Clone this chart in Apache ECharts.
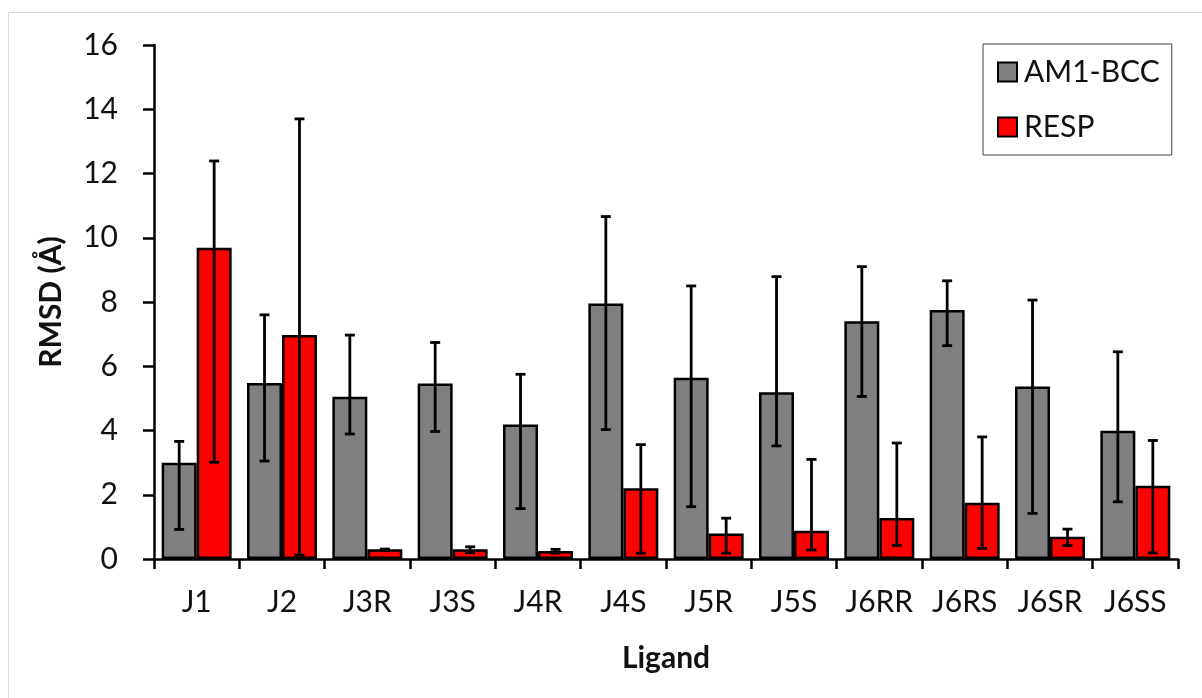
<!DOCTYPE html>
<html>
<head>
<meta charset="utf-8">
<title>RMSD by ligand</title>
<script src="https://cdn.jsdelivr.net/npm/echarts@6/dist/echarts.min.js"></script>
<style>
    html, body { margin: 0; padding: 0; background: #fff; }
    #main { width: 1202px; height: 698px; }
</style>
</head>
<body>
<div id="main"></div>
<script>
// data
const categories = ['J1', 'J2', 'J3R', 'J3S', 'J4R', 'J4S', 'J5R', 'J5S', 'J6RR', 'J6RS', 'J6SR', 'J6SS'];
const yTicks = [0, 2, 4, 6, 8, 10, 12, 14, 16];

const am1Values = [3.0, 5.48, 5.05, 5.46, 4.19, 7.95, 5.64, 5.19, 7.40, 7.75, 5.37, 3.99];
const am1Low = [0.92, 3.05, 3.89, 3.97, 1.57, 4.03, 1.63, 3.52, 5.06, 6.64, 1.42, 1.78];
const am1High = [3.66, 7.60, 6.97, 6.74, 5.75, 10.66, 8.50, 8.79, 9.10, 8.66, 8.06, 6.45];

const respValues = [9.69, 6.97, 0.30, 0.30, 0.25, 2.20, 0.79, 0.88, 1.28, 1.75, 0.69, 2.28];
const respLow = [3.01, 0.12, 0.27, 0.20, 0.18, 0.18, 0.18, 0.28, 0.42, 0.33, 0.42, 0.19];
const respHigh = [12.39, 13.70, 0.31, 0.38, 0.30, 3.56, 1.27, 3.10, 3.61, 3.80, 0.93, 3.69];

const FONT = 'Lato';
const GAP = 0.18; // barCategoryGap

const chartDom = document.getElementById('main');
const myChart = echarts.init(chartDom, null, {renderer: 'canvas'});

// error bar drawer; side = -1 for left bar, +1 for right bar
const makeErrorRender = (side) => (params, api) => {
    const idx = api.value(0);
    const band = api.size([1, 0])[0];
    const barW = band * (1 - GAP) / 2;
    const top = api.coord([idx, api.value(2)]);
    const bot = api.coord([idx, api.value(1)]);
    const x = top[0] + side * barW / 2;
    const cap = 5;
    const style = {stroke: '#000', lineWidth: 2.8};
    return {
        type: 'group',
        children: [
            {type: 'line', shape: {x1: x, y1: top[1], x2: x, y2: bot[1]}, style},
            {type: 'line', shape: {x1: x - cap, y1: top[1], x2: x + cap, y2: top[1]}, style},
            {type: 'line', shape: {x1: x - cap, y1: bot[1], x2: x + cap, y2: bot[1]}, style}
        ]
    };
};

const option = {
    animation: false,
    textStyle: {fontFamily: FONT},
    graphic: [{
        type: 'rect',
        silent: true,
        shape: {x: 8.5, y: 12.5, width: 1400, height: 900},
        style: {fill: 'none', stroke: '#d9d9d9', lineWidth: 1}
    }],
    grid: {left: 154, right: 24, top: 45, bottom: 139},
    legend: {
        orient: 'vertical',
        left: 983,
        top: 44,
        padding: [13, 12, 13, 14],
        itemGap: 25,
        itemWidth: 19,
        itemHeight: 19,
        borderColor: '#404040',
        borderWidth: 1,
        backgroundColor: '#fff',
        icon: 'rect',
        data: ['AM1-BCC', 'RESP'],
        textStyle: {fontFamily: FONT, fontSize: 30, color: '#111', lineHeight: 30, padding: [0, 0, 0, 2]}
    },
    xAxis: {
        type: 'category',
        data: categories,
        name: 'Ligand',
        nameLocation: 'middle',
        nameGap: 84,
        nameTextStyle: {fontFamily: FONT, fontSize: 30, fontWeight: 'bold', color: '#111'},
        axisLine: {lineStyle: {color: '#000', width: 2.5}},
        axisTick: {show: true, length: 10, alignWithLabel: false, lineStyle: {color: '#000', width: 2.5}},
        axisLabel: {fontFamily: FONT, fontSize: 30, color: '#111', margin: 28, interval: 0}
    },
    yAxis: {
        type: 'value',
        min: yTicks[0],
        max: yTicks[yTicks.length - 1],
        interval: 2,
        name: 'RMSD (Å)',
        nameLocation: 'middle',
        nameGap: 88,
        nameTextStyle: {fontFamily: FONT, fontSize: 30, fontWeight: 'bold', color: '#111'},
        axisLine: {show: true, lineStyle: {color: '#000', width: 2.5}},
        axisTick: {show: true, length: 11, lineStyle: {color: '#000', width: 2.5}},
        splitLine: {show: false},
        axisLabel: {fontFamily: FONT, fontSize: 30, color: '#111', margin: 36}
    },
    series: [
        {
            name: 'AM1-BCC',
            type: 'bar',
            barGap: '0%',
            barCategoryGap: (GAP * 100) + '%',
            itemStyle: {color: '#808080', borderColor: '#000', borderWidth: 2.5},
            data: am1Values
        },
        {
            name: 'RESP',
            type: 'bar',
            barGap: '0%',
            barCategoryGap: (GAP * 100) + '%',
            itemStyle: {color: '#ff0000', borderColor: '#000', borderWidth: 2.5},
            data: respValues
        },
        {
            type: 'custom',
            name: 'am1Err',
            renderItem: makeErrorRender(-1),
            encode: {x: 0, y: [1, 2]},
            z: 10,
            data: categories.map((c, i) => [i, am1Low[i], am1High[i]])
        },
        {
            type: 'custom',
            name: 'respErr',
            renderItem: makeErrorRender(1),
            encode: {x: 0, y: [1, 2]},
            z: 10,
            data: categories.map((c, i) => [i, respLow[i], respHigh[i]])
        }
    ]
};

option && myChart.setOption(option);
</script>
</body>
</html>
